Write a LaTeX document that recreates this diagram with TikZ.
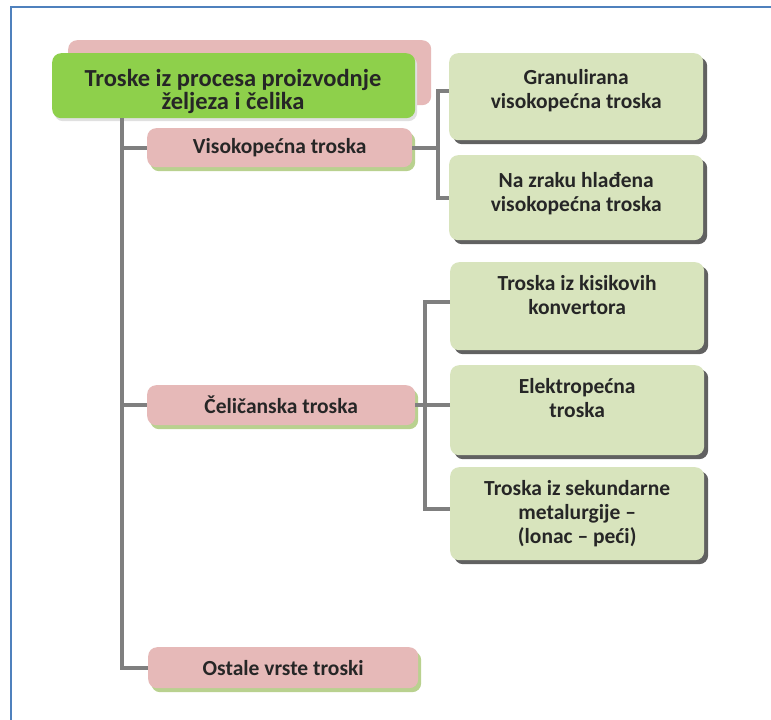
\documentclass[tikz,border=0pt]{standalone}
\usepackage{fontspec}
\setmainfont{Carlito}
\usetikzlibrary{calc,shadows}
\definecolor{frameblue}{HTML}{4F81BD}
\definecolor{titlegreen}{HTML}{8ED04B}
\definecolor{pinkbox}{HTML}{E6B9B8}
\definecolor{lightgreen}{HTML}{D8E4BD}
\definecolor{greenshadow}{HTML}{B9D18F}
\definecolor{linegray}{HTML}{7F7F7F}
\definecolor{txtcol}{HTML}{262626}
\tikzset{
  box/.style={rounded corners=9pt, inner sep=0pt, anchor=north west},
  titlebox/.style={box, fill=titlegreen, general shadow={fill=black!12, shadow xshift=2pt, shadow yshift=-3pt}},
  backbox/.style={box, fill=pinkbox},
  pinkb/.style={box, fill=pinkbox, general shadow={fill=greenshadow, shadow xshift=3pt, shadow yshift=-4pt}},
  rbox/.style={box, fill=lightgreen, minimum width=254pt, general shadow={fill=black!62, shadow xshift=4pt, shadow yshift=-4pt}},
  lbl/.style={text=txtcol, font=\fontsize{21.5}{24}\selectfont\bfseries, align=center, inner sep=0pt},
  titlelbl/.style={text=txtcol, font=\fontsize{24.5}{23}\selectfont\bfseries, align=center, inner sep=0pt},
  conn/.style={draw=linegray, line width=4pt}
}
\begin{document}
\begin{tikzpicture}[x=1pt,y=-1pt]
\useasboundingbox (0,0) rectangle (771,720);
\fill[white] (0,0) rectangle (771,720);
% frame
\draw[frameblue, line width=2pt] (11,721) -- (11,7) -- (772,7);

% title
\node[backbox, minimum width=363pt, minimum height=65pt] (back) at (68,40) {};
\node[titlebox, minimum width=363pt, minimum height=65pt] (title) at (52,53) {};
\node[titlelbl] (titlet) at (233,91) {Troske iz procesa proizvodnje\\željeza i čelika};

% left boxes
\node[pinkb, minimum width=265pt, minimum height=39pt] (viso) at (147,128) {};
\node[lbl] (visot) at (viso.center) {Visokopećna troska};
\node[pinkb, minimum width=268pt, minimum height=40pt] (celi) at (147,385) {};
\node[lbl] (celit) at (celi.center) {Čeličanska troska};
\node[pinkb, minimum width=270pt, minimum height=41pt] (ost) at (148,647) {};
\node[lbl] (ostt) at (ost.center) {Ostale vrste troski};

% right boxes
\node[rbox, minimum height=87pt] (gran) at (449,53) {};
\node[lbl] (grant) at ($(gran.center)+(0,-6)$) {Granulirana\\visokopećna troska};
\node[rbox, minimum height=85pt] (zrak) at (449,155) {};
\node[lbl] (zrakt) at ($(zrak.center)+(0,-4)$) {Na zraku hlađena\\visokopećna troska};
\node[rbox, minimum height=88pt] (kis) at (450,262) {};
\node[lbl] (kist) at ($(kis.center)+(0,-11)$) {Troska iz kisikovih\\konvertora};
\node[rbox, minimum height=90pt] (elek) at (450,365) {};
\node[lbl] (elekt) at ($(elek.center)+(0,-12)$) {Elektropećna\\troska};
\node[rbox, minimum height=93pt] (sek) at (450,467) {};
\node[lbl] (sekt) at (sek.center) {Troska iz sekundarne\\metalurgije –\\(lonac – peći)};

% connectors
\coordinate (trunk) at (122,0);
\coordinate (vb) at (438,0);
\coordinate (cb) at (425,0);
\coordinate (granin) at ($(gran.west)+(0,-6)$);
\coordinate (kisin) at ($(kis.west)+(0,-4)$);
\coordinate (elekin) at ($(elek.west)+(0,-5)$);
\coordinate (sekin) at ($(sek.west)+(0,-5)$);
\draw[conn] (trunk |- title.south) |- (ost.west);
\draw[conn] (trunk |- viso.west) -- (viso.west);
\draw[conn] (trunk |- celi.west) -- (celi.west);
\draw[conn] (viso.east) -- (vb |- viso.east);
\draw[conn] (granin) -| (vb |- zrak.west) -- (zrak.west);
\draw[conn] (celi.east) -- (cb |- celi.east);
\draw[conn] (kisin) -| (cb |- sekin) -- (sekin);
\draw[conn] (elekin) -- (cb |- elekin);
\end{tikzpicture}
\end{document}
